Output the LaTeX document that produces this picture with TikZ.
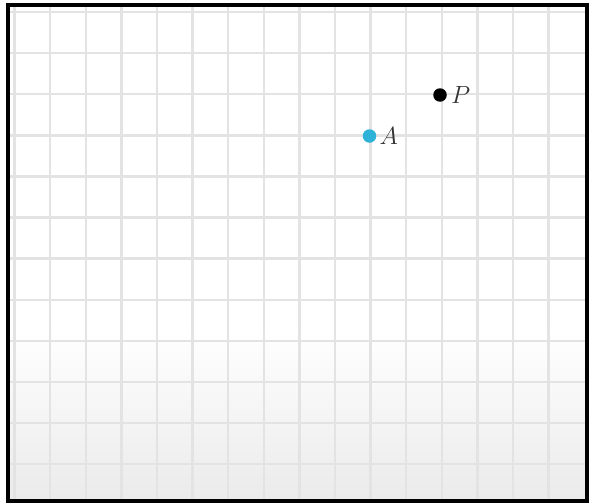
\documentclass[tikz,border=0pt]{standalone}
\usepackage{tikz}
\usetikzlibrary{positioning}
\definecolor{gridGray}{HTML}{E3E3E3}
\definecolor{dotCyan}{HTML}{2EB2D8}
\definecolor{labelGray}{HTML}{333333}

\begin{document}
\begin{tikzpicture}[
    x=1pt, y=-1pt,
    gridline/.style={gridGray, line width=2.4pt},
    frame/.style={draw=black, line width=3.6pt},
    pnt/.style={circle, inner sep=0pt, minimum size=13.5pt},
    lab/.style={inner sep=0pt, text=labelGray, font=\fontsize{26}{26}\selectfont},
  ]
    \useasboundingbox (0,0) rectangle (593,503);
    \fill[white] (0,0) rectangle (593,503);

    % paper, greying towards the bottom
    \shade[top color=white, bottom color=gray!16] (9,330) rectangle (586,500);

    % grid
    \foreach \k in {0,...,15}
      \draw[gridline] ({14.5+35.6*\k},7) -- ({14.5+35.6*\k},499);
    \foreach \k in {0,...,11}
      \draw[gridline] (9,{12+41.1*\k}) -- (586,{12+41.1*\k});

    % frame
    \draw[frame] (8,5) rectangle (587,501);

    % points
    \node[pnt, fill=dotCyan] (ptA) at (369.5,136) {};
    \node[pnt, fill=black] (ptP) at (440,95) {};
    \node[lab, right=3pt of ptA] (labA) {$A$};
    \node[lab, right=4pt of ptP] (labP) {$P$};
  \end{tikzpicture}
\end{document}
